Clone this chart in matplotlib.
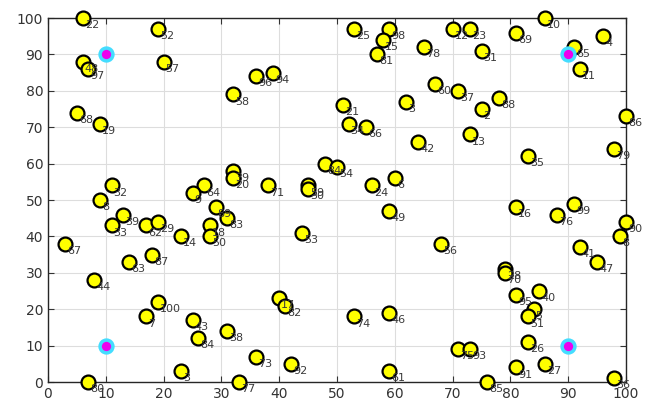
import matplotlib.pyplot as plt
import numpy as np

# node positions
labels = [22, 52, 48, 97, 57, 68, 19, 96, 94, 58,
          25, 98, 15, 81, 78, 12, 23, 31, 60, 37,
          21, 3, 2, 88, 34, 66, 10, 69, 4, 65,
          11, 86, 13, 42, 35, 79, 32, 8, 39, 33,
          62, 29, 14, 67, 87, 63, 39, 20, 64, 9,
          71, 59, 30, 89, 83, 18, 50, 53, 84, 54,
          6, 24, 49, 56, 16, 99, 76, 90, 8, 41,
          47, 44, 100, 7, 80, 3, 17, 82, 43, 38,
          84, 73, 92, 77, 74, 46, 61, 75, 93, 85,
          28, 70, 95, 40, 5, 51, 26, 27, 91, 36]
xs = [6, 19, 6, 7, 20, 5, 9, 36, 39, 32,
      53, 59, 58, 57, 65, 70, 73, 75, 67, 71,
      51, 62, 75, 78, 52, 55, 86, 81, 96, 91,
      92, 100, 73, 64, 83, 98, 11, 9, 13, 11,
      17, 19, 23, 3, 18, 14, 32, 32, 27, 25,
      38, 45, 45, 29, 31, 28, 28, 44, 48, 50,
      60, 56, 59, 68, 81, 91, 88, 100, 99, 92,
      95, 8, 19, 17, 7, 23, 40, 41, 25, 31,
      26, 36, 42, 33, 53, 59, 59, 71, 73, 76,
      79, 79, 81, 85, 84, 83, 83, 86, 81, 98]
ys = [100, 97, 88, 86, 88, 74, 71, 84, 85, 79,
      97, 97, 94, 90, 92, 97, 97, 91, 82, 80,
      76, 77, 75, 78, 71, 70, 100, 96, 95, 92,
      86, 73, 68, 66, 62, 64, 54, 50, 46, 43,
      43, 44, 40, 38, 35, 33, 58, 56, 54, 52,
      54, 54, 53, 48, 45, 43, 40, 41, 60, 59,
      56, 54, 47, 38, 48, 49, 46, 44, 40, 37,
      33, 28, 22, 18, 0, 3, 23, 21, 17, 14,
      12, 7, 5, 0, 18, 19, 3, 9, 9, 0,
      31, 30, 24, 25, 20, 18, 11, 5, 4, 1]

# anchor points
anchor_x = [10, 90, 10, 90]
anchor_y = [90, 90, 10, 10]

fig = plt.figure(figsize=(6.54, 4.08), dpi=100)
ax = fig.add_axes([48/654, 26/408, 578/654, 364/408])

ax.scatter(xs, ys, s=100, c='#ffff00', edgecolors='black', linewidths=1.6,
           zorder=3, clip_on=False)
ax.scatter(anchor_x, anchor_y, s=85, c='#ee00ee', edgecolors='#44ddff',
           linewidths=2.5, zorder=3, clip_on=False)

for x, y, lab in zip(xs, ys, labels):
    ax.annotate(str(lab), (x, y), xytext=(1.5, -1.5), textcoords='offset points',
                ha='left', va='top', fontsize=8, color='#3a3a3a',
                zorder=4, annotation_clip=False)

ax.set_xlim(0, 100)
ax.set_ylim(0, 100)
ax.set_xticks(np.arange(0, 101, 10))
ax.set_yticks(np.arange(0, 101, 10))
ax.grid(True, color='#dddddd', linewidth=0.8)
ax.set_axisbelow(True)
ax.tick_params(direction='in', top=True, right=True, length=4,
               labelsize=10, colors='#333333')
for sp in ax.spines.values():
    sp.set_color('#262626')
    sp.set_linewidth(1.0)

plt.savefig('out.png')
